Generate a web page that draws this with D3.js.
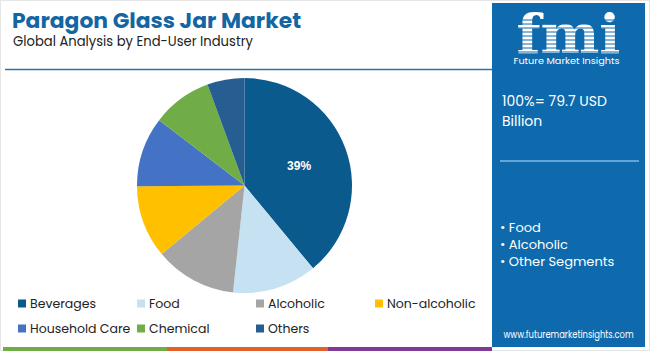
<!DOCTYPE html>
<html>
<head>
<meta charset="utf-8">
<script src="https://cdn.jsdelivr.net/npm/d3@7"></script>
<style>
body { margin: 0; background: #fff; }
svg { display: block; font-family: Poppins, "Open Sans", "DejaVu Sans", sans-serif; }
</style>
</head>
<body>
<div id="chart"></div>
<script>
var width = 650;
var height = 351;

// data
var segments = ["Beverages", "Food", "Alcoholic", "Non-alcoholic", "Household Care", "Chemical", "Others"];
var shares = [39, 12.7, 12.3, 10.9, 10.5, 9.0, 5.6];
var colors = ["#0b5a8e", "#c5e1f2", "#a5a5a5", "#ffc000", "#4472c4", "#70ad47", "#275e92"];
var panelBullets = ["Food", "Alcoholic", "Other Segments"];
var totalText = ["100%= 79.7 USD", "Billion"];

var data = segments.map(function(s, i) { return {name: s, value: shares[i], color: colors[i]}; });

var svg = d3.select("#chart").append("svg")
  .attr("width", width)
  .attr("height", height);

// frame
svg.append("rect")
  .attr("x", 0.5).attr("y", 0.5)
  .attr("width", width - 1).attr("height", height - 1)
  .attr("fill", "#fff").attr("stroke", "#e6e6e6");

// title
svg.append("text")
  .attr("x", 12).attr("y", 28)
  .attr("font-size", 21).attr("font-weight", "bold")
  .attr("fill", "#1466a3")
  .attr("textLength", 289).attr("lengthAdjust", "spacingAndGlyphs")
  .text("Paragon Glass Jar Market");
svg.append("text")
  .attr("x", 13).attr("y", 46)
  .attr("font-size", 13.5)
  .attr("fill", "#222")
  .attr("textLength", 240).attr("lengthAdjust", "spacingAndGlyphs")
  .text("Global Analysis by End-User Industry");

svg.append("line")
  .attr("x1", 5).attr("x2", 492)
  .attr("y1", 69.5).attr("y2", 69.5)
  .attr("stroke", "#2f72a8").attr("stroke-width", 1.5);

// pie
var cx = 244.5, cy = 185.5, r = 107.5;
var pie = d3.pie().sort(null).value(function(d) { return d.value; });
var arc = d3.arc().innerRadius(0).outerRadius(r);
var labelArc = d3.arc().innerRadius(58).outerRadius(58);

var g = svg.append("g").attr("transform", "translate(" + cx + "," + cy + ")");
var arcs = pie(data);
g.selectAll("path")
  .data(arcs)
  .enter().append("path")
  .attr("d", arc)
  .attr("fill", function(d) { return d.data.color; });

g.selectAll(".lbl")
  .data(arcs.filter(function(d) { return d.data.value > 30; }))
  .enter().append("text")
  .attr("class", "lbl")
  .attr("transform", function(d) { return "translate(" + labelArc.centroid(d) + ")"; })
  .attr("text-anchor", "middle")
  .attr("dy", "0.35em")
  .attr("font-size", 12).attr("font-weight", "bold")
  .attr("font-family", "Arial, 'Liberation Sans', sans-serif")
  .attr("fill", "#fff")
  .text(function(d) { return Math.round(d.data.value) + "%"; });

// legend
var legend = svg.append("g");
var items = legend.selectAll("g")
  .data(data)
  .enter().append("g")
  .attr("transform", function(d, i) {
    return "translate(" + (18 + (i % 4) * 119) + "," + (304 + Math.floor(i / 4) * 25) + ")";
  });
items.append("rect")
  .attr("x", 0).attr("y", -4.5)
  .attr("width", 8).attr("height", 8)
  .attr("fill", function(d) { return d.color; });
items.append("text")
  .attr("x", 12).attr("dy", "0.35em")
  .attr("font-size", 12.5)
  .attr("fill", "#222")
  .text(function(d) { return d.name; });

// bottom colour strip
var strip = [["#70ad47", 3, 167], ["#e2612a", 167, 328], ["#7e3a96", 328, 492]];
svg.selectAll(".strip")
  .data(strip)
  .enter().append("rect")
  .attr("class", "strip")
  .attr("x", function(d) { return d[1]; })
  .attr("width", function(d) { return d[2] - d[1]; })
  .attr("y", 347).attr("height", 4)
  .attr("fill", function(d) { return d[0]; });

// right panel
var px = 492, pw = 153;
svg.append("rect")
  .attr("x", px).attr("y", 3)
  .attr("width", pw).attr("height", 344)
  .attr("fill", "#0e6aad");

// logo
var logo = svg.append("g");
logo.append("text")
  .attr("x", px + pw / 2).attr("y", 53)
  .attr("text-anchor", "middle")
  .attr("font-family", "'DejaVu Serif', 'Liberation Serif', serif")
  .attr("font-weight", "bold")
  .attr("font-size", 54)
  .attr("fill", "#fff")
  .attr("textLength", 104).attr("lengthAdjust", "spacingAndGlyphs")
  .text("fmi");
d3.range(20, 54, 4).forEach(function(y) {
  logo.append("line")
    .attr("x1", px + 15).attr("x2", px + pw - 15)
    .attr("y1", y).attr("y2", y)
    .attr("stroke", "#0e6aad").attr("stroke-width", 1);
});
logo.append("text")
  .attr("x", px + pw / 2 - 2).attr("y", 64)
  .attr("text-anchor", "middle")
  .attr("font-size", 9.5)
  .attr("fill", "#fff")
  .attr("textLength", 106).attr("lengthAdjust", "spacingAndGlyphs")
  .text("Future Market Insights");

svg.selectAll(".total")
  .data(totalText)
  .enter().append("text")
  .attr("class", "total")
  .attr("x", 502)
  .attr("y", function(d, i) { return 106 + i * 20; })
  .attr("font-size", 14)
  .attr("fill", "#fff")
  .text(function(d) { return d; });

svg.append("line")
  .attr("x1", 500).attr("x2", 639)
  .attr("y1", 161).attr("y2", 161)
  .attr("stroke", "#7fbbe6").attr("stroke-width", 1.5);

svg.selectAll(".bullet")
  .data(panelBullets)
  .enter().append("text")
  .attr("class", "bullet")
  .attr("x", 500)
  .attr("y", function(d, i) { return 232 + i * 17; })
  .attr("font-size", 13)
  .attr("fill", "#fff")
  .text(function(d) { return "\u2022 " + d; });

svg.append("text")
  .attr("x", px + pw / 2).attr("y", 338)
  .attr("text-anchor", "middle")
  .attr("font-size", 10)
  .attr("fill", "#fff")
  .attr("textLength", 130).attr("lengthAdjust", "spacingAndGlyphs")
  .text("www.futuremarketinsights.com");
</script>
</body>
</html>
